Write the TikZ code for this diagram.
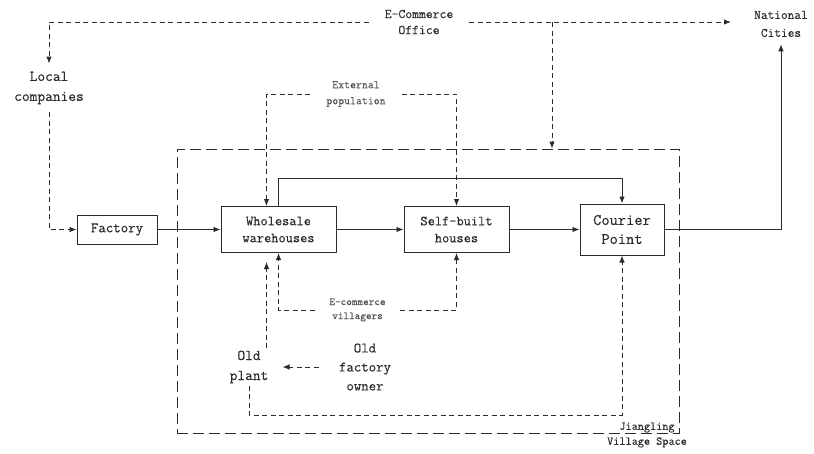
\documentclass[tikz,border=0pt]{standalone}
\usepackage{fontspec}
\setmonofont{Latin Modern Mono}[FakeBold=0.3]
\usepackage{tikz}
\usetikzlibrary{positioning,calc,arrows.meta}
\definecolor{lnk}{HTML}{2B2B2B}
\definecolor{lbl}{HTML}{555555}
\newcommand{\setfs}[2]{\fontsize{#1}{#2}\selectfont\ttfamily}

\begin{document}
\begin{tikzpicture}[x=1pt, y=-1pt,
  box/.style={draw=lnk, line width=1pt, inner sep=0pt, align=center, text=lnk},
  txt/.style={align=center, inner sep=2pt, text=lnk},
  sarrow/.style={-{Latex[length=7pt,width=5.5pt]}, lnk, line width=0.9pt},
  darrow/.style={-{Latex[length=7pt,width=5.5pt]}, lnk, line width=0.9pt, dash pattern=on 5pt off 3.5pt},
  vbox/.style={draw=lnk, line width=0.9pt, dash pattern=on 11pt off 5pt, minimum width=502pt, minimum height=284pt},
]
\useasboundingbox (0,0) rectangle (814,453);
\node[vbox] (village) at (428,291) {};
% main chain
\node[box, minimum width=80pt, minimum height=29pt, font=\setfs{14.5}{17}] (fac) at (117,229.5) {Factory};
\node[box, minimum width=115pt, minimum height=46pt, font=\setfs{14}{17}, right=63pt of fac] (whole) {Wholesale\\warehouses};
\node[box, minimum width=105pt, minimum height=46pt, font=\setfs{14}{17}, right=67pt of whole] (self) {Self-built\\houses};
\node[box, minimum width=84pt, minimum height=51pt, font=\setfs{16}{19}, right=70pt of self] (cour) {Courier\\Point};
% labels
\node[txt, font=\setfs{13.3}{16}, inner xsep=16pt] (office) at (419,22) {E-Commerce\\Office};
\node[txt, font=\setfs{13}{18}] (cities) at (781,24) {National\\Cities};
\node[txt, font=\setfs{15}{20}, inner ysep=8pt] (local) at (49,88) {Local\\companies};
\node[txt, font=\setfs{11.5}{16}, text=lbl, inner xsep=16pt] (ext) at (356,94) {External\\population};
\node[txt, font=\setfs{10.7}{14}, text=lbl, inner xsep=14.5pt] (vill) at (357.5,310) {E-commerce\\villagers};
\node[txt, font=\setfs{15}{20}] (plant) at (249,367) {Old\\plant};
\node[txt, font=\setfs{14.4}{19}] (owner) at (365,367) {Old\\factory\\owner};
\node[txt, font=\setfs{11.9}{15}] (jl) at (647,435) {Jiangling\\Village Space};
\coordinate (br) at (552,22);
\coordinate (low) at (0,415);
\coordinate (pin) at ([xshift=-12pt,yshift=-9pt]whole.south);
% flows
\draw[darrow] (office.west) -| (local.north);
\draw[darrow] (local.south) |- (fac.west);
\draw[darrow, shorten >=21pt] (office.east) -- (office.east -| cities.west);
\draw[darrow] (br) -- (br |- village.north);
\draw[sarrow, shorten >=5pt] (cour.east) -| (cities.south);
\draw[sarrow] (fac) -- (whole);
\draw[sarrow] (whole) -- (self);
\draw[sarrow] (self) -- (cour);
\draw[sarrow] (whole.north) -- ++(0,-28) -| (cour.north);
\draw[darrow] (ext.west) -| ([xshift=-12pt]whole.north);
\draw[darrow] (ext.east) -| (self.north);
\draw[darrow] (vill.west) -| (whole.south);
\draw[darrow] (vill.east) -| (self.south);
\draw[darrow] (plant.north -| pin) -- (pin);
\draw[darrow, shorten <=18pt, shorten >=12pt] (owner.west) -- (plant.east);
\draw[darrow] (plant.south) -- (plant.south |- low) -| (cour.south);
\end{tikzpicture}
\end{document}
